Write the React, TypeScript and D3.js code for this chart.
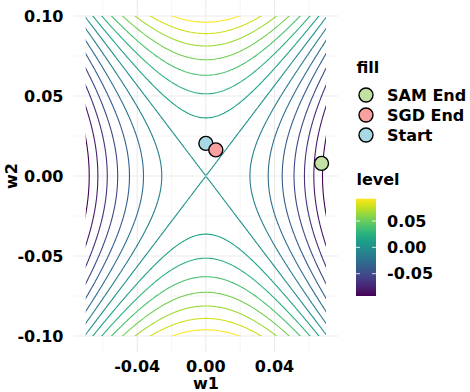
import React, { useEffect, useRef } from 'react';
import * as d3 from 'd3';

// loss surface seen in the plot: level = c2 * w2^2 - c1 * w1^2
const surfaceCoef = [20, 10];
const w1Range = [-0.07, 0.07];
const w2Range = [-0.1, 0.1];
const contourLevels = [
  -0.0924, -0.0792, -0.066, -0.0528, -0.0396, -0.0264, -0.0132, 0,
  0.0132, 0.0264, 0.0396, 0.0528, 0.066, 0.0792, 0.0924,
];

const pointNames = ['Start', 'SGD End', 'SAM End'];
const pointW1 = [0.0, 0.0058, 0.0674];
const pointW2 = [0.0204, 0.0163, 0.0079];
const legendNames = ['SAM End', 'SGD End', 'Start'];
const fillColors = ['#a7d8e4', '#f8a1a0', '#c2e2a4'];

const xTicks = [-0.04, 0, 0.04];
const xMinor = [-0.06, -0.02, 0.02, 0.06];
const yTicks = [-0.1, -0.05, 0, 0.05, 0.1];
const yMinor = [-0.075, -0.025, 0.025, 0.075];
const levelTicks = [-0.05, 0, 0.05];

const FONT = "'DejaVu Sans', sans-serif";

const surface = (w1: number, w2: number) =>
  surfaceCoef[1] * w2 * w2 - surfaceCoef[0] * w1 * w1;

const App = () => {
  const ref = useRef<SVGSVGElement>(null);

  useEffect(() => {
    const svg = d3.select(ref.current);
    svg.selectAll('*').remove();

    const panel = { left: 73.7, right: 338, top: 0, bottom: 352 };
    const x = d3.scaleLinear().domain([-0.077, 0.077]).range([panel.left, panel.right]);
    const y = d3.scaleLinear().domain([-0.11, 0.11]).range([panel.bottom, panel.top]);
    // ggplot prints a plain hyphen, not the unicode minus
    const fmt = (v: number) => d3.format('.2f')(v).replace('\u2212', '-');

    // grid lines
    const grid = svg.append('g');
    grid.selectAll('.minx').data(xMinor).enter().append('line')
      .attr('x1', d => x(d)).attr('x2', d => x(d))
      .attr('y1', panel.top).attr('y2', panel.bottom)
      .attr('stroke', '#ebebeb').attr('stroke-width', 0.55);
    grid.selectAll('.miny').data(yMinor).enter().append('line')
      .attr('x1', panel.left).attr('x2', panel.right)
      .attr('y1', d => y(d)).attr('y2', d => y(d))
      .attr('stroke', '#ebebeb').attr('stroke-width', 0.55);
    grid.selectAll('.majx').data(xTicks).enter().append('line')
      .attr('x1', d => x(d)).attr('x2', d => x(d))
      .attr('y1', panel.top).attr('y2', panel.bottom)
      .attr('stroke', '#ebebeb').attr('stroke-width', 1.1);
    grid.selectAll('.majy').data(yTicks).enter().append('line')
      .attr('x1', panel.left).attr('x2', panel.right)
      .attr('y1', d => y(d)).attr('y2', d => y(d))
      .attr('stroke', '#ebebeb').attr('stroke-width', 1.1);

    // contours: computed on a slightly larger grid, clipped to the data range
    const step = 0.001;
    const gx0 = -0.0805, gy0 = -0.1105;
    const nx = 162, ny = 222;
    const values = new Array(nx * ny);
    for (let j = 0; j < ny; j++) {
      for (let i = 0; i < nx; i++) {
        values[j * nx + i] = surface(gx0 + i * step, gy0 + j * step);
      }
    }
    const contours = d3.contours().size([nx, ny]).thresholds(contourLevels)(values);

    const color = d3.scaleSequential(d3.interpolateViridis)
      .domain([contourLevels[0], contourLevels[contourLevels.length - 1]]);

    const toPath = (mp: any) => mp.coordinates.map((poly: number[][][]) =>
      poly.map(ring => 'M' + ring.map(p => {
        const px = x(gx0 + (p[0] - 0.5) * step);
        const py = y(gy0 + (p[1] - 0.5) * step);
        return px.toFixed(2) + ',' + py.toFixed(2);
      }).join('L') + 'Z').join('')).join('');

    svg.append('clipPath').attr('id', 'data-clip')
      .append('rect')
      .attr('x', x(w1Range[0])).attr('y', y(w2Range[1]))
      .attr('width', x(w1Range[1]) - x(w1Range[0]))
      .attr('height', y(w2Range[0]) - y(w2Range[1]));

    svg.append('g').attr('clip-path', 'url(#data-clip)')
      .selectAll('path').data(contours).enter().append('path')
      .attr('d', d => toPath(d))
      .attr('fill', 'none')
      .attr('stroke', d => color(d.value))
      .attr('stroke-width', 1.1)
      .attr('stroke-linejoin', 'round');

    // points
    svg.append('g').selectAll('circle').data(pointNames).enter().append('circle')
      .attr('cx', (d, i) => x(pointW1[i]))
      .attr('cy', (d, i) => y(pointW2[i]))
      .attr('r', 7)
      .attr('fill', (d, i) => fillColors[i])
      .attr('stroke', '#000').attr('stroke-width', 1.4);

    // axes labels
    const text = (g: any) => g.attr('font-family', FONT).attr('font-weight', 'bold')
      .attr('font-size', 16).attr('fill', '#000');

    svg.append('g').call(text).selectAll('text').data(yTicks).enter().append('text')
      .attr('x', 63.5).attr('y', d => y(d)).attr('dy', '0.36em')
      .attr('text-anchor', 'end').text(d => fmt(d));
    svg.append('g').call(text).selectAll('text').data(xTicks).enter().append('text')
      .attr('x', d => x(d)).attr('y', 371.5)
      .attr('text-anchor', 'middle').text(d => fmt(d));
    svg.append('text').call(text)
      .attr('x', (panel.left + panel.right) / 2).attr('y', 389)
      .attr('text-anchor', 'middle').text('w1');
    svg.append('text').call(text)
      .attr('transform', `translate(16.5,${(panel.top + panel.bottom) / 2}) rotate(-90)`)
      .attr('text-anchor', 'middle').text('w2');

    // fill legend
    const leg = svg.append('g').call(text);
    leg.append('text').attr('x', 356.5).attr('y', 72.5).text('fill');
    legendNames.forEach((name, k) => {
      const cy = 95 + k * 20;
      leg.append('circle').attr('cx', 366).attr('cy', cy).attr('r', 7)
        .attr('fill', fillColors[pointNames.indexOf(name)])
        .attr('stroke', '#000').attr('stroke-width', 1.4);
      leg.append('text').attr('x', 387).attr('y', cy).attr('dy', '0.36em').text(name);
    });

    // level colourbar
    leg.append('text').attr('x', 356.5).attr('y', 185).text('level');
    const bar = { x: 356, w: 20 };
    const barY = d3.scaleLinear()
      .domain([contourLevels[0], contourLevels[contourLevels.length - 1]])
      .range([296, 198.7]);
    const grad = svg.append('defs').append('linearGradient')
      .attr('id', 'level-grad').attr('x1', 0).attr('y1', 1).attr('x2', 0).attr('y2', 0);
    d3.range(0, 1.0001, 0.05).forEach(t => {
      grad.append('stop').attr('offset', t)
        .attr('stop-color', d3.interpolateViridis(t));
    });
    svg.append('rect')
      .attr('x', bar.x).attr('y', barY.range()[1])
      .attr('width', bar.w).attr('height', barY.range()[0] - barY.range()[1])
      .attr('fill', 'url(#level-grad)');
    levelTicks.forEach(t => {
      svg.append('line').attr('x1', bar.x).attr('x2', bar.x + 4)
        .attr('y1', barY(t)).attr('y2', barY(t)).attr('stroke', '#fff').attr('stroke-width', 0.8);
      svg.append('line').attr('x1', bar.x + bar.w - 4).attr('x2', bar.x + bar.w)
        .attr('y1', barY(t)).attr('y2', barY(t)).attr('stroke', '#fff').attr('stroke-width', 0.8);
      leg.append('text').attr('x', 387).attr('y', barY(t)).attr('dy', '0.36em').text(fmt(t));
    });
  }, []);

  return (
    <svg ref={ref} width={470} height={392}
      style={{ position: 'absolute', left: 0, top: 0, background: '#fff' }} />
  );
};

export default App;
